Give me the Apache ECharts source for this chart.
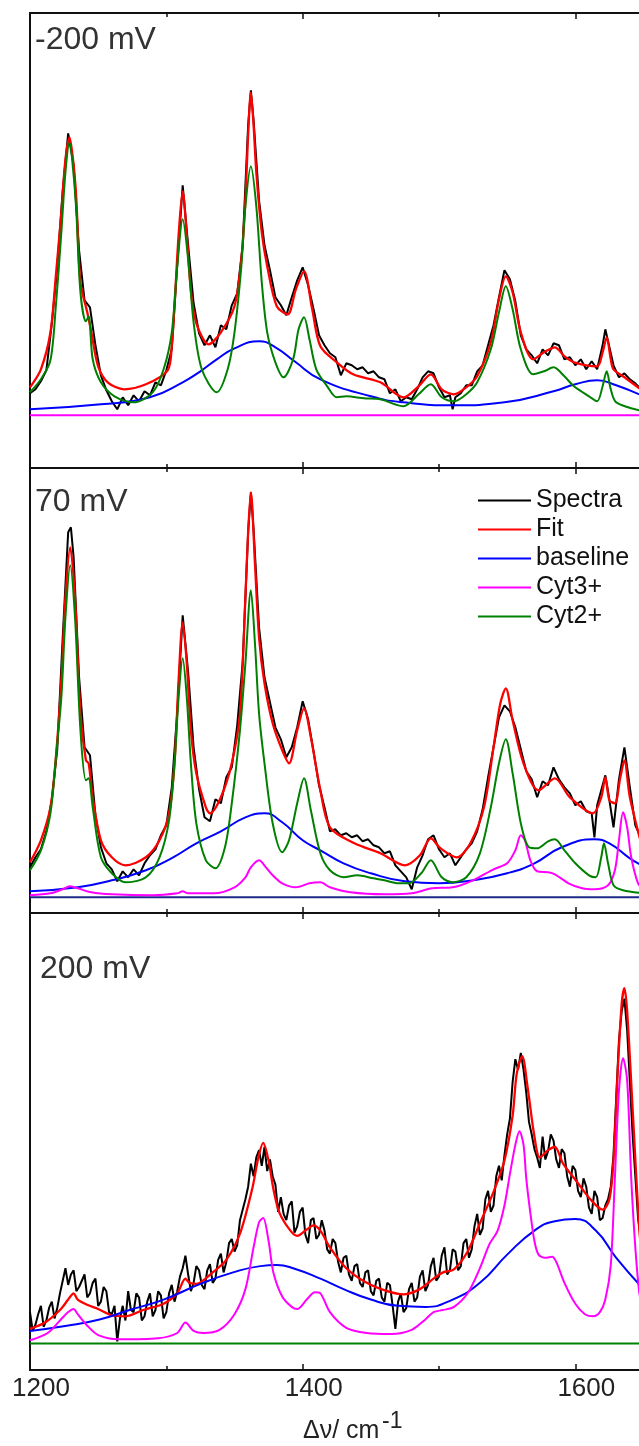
<!DOCTYPE html>
<html>
<head>
<meta charset="utf-8">
<script src="https://cdn.jsdelivr.net/npm/echarts@6/dist/echarts.min.js"></script>
<style>
  html, body { margin: 0; padding: 0; background: #fff; }
  #chart { width: 639px; height: 1446px; }
</style>
</head>
<body>
<div id="chart"></div>
<script>
// wavenumber range, cm-1
var xMin = 1200, xMax = 1800, xStep = 200;
var panelNames = ['-200 mV', '70 mV', '200 mV'];

// ---- -200 mV ----
var specA = [[1200,22],[1204,26],[1208,34],[1212,45],[1216,92],[1220,148],[1224,225],[1228,282],[1232,250],[1236,165],[1240,115],[1244,108],[1248,70],[1252,40],[1256,25],[1260,14],[1264,6],[1268,18],[1272,10],[1276,20],[1280,14],[1284,24],[1288,20],[1292,33],[1296,30],[1300,45],[1304,66],[1308,150],[1312,230],[1316,170],[1320,112],[1324,82],[1328,70],[1332,80],[1336,68],[1340,90],[1344,86],[1348,110],[1352,122],[1356,170],[1360,290],[1362,325],[1364,295],[1368,215],[1372,170],[1376,145],[1380,118],[1384,110],[1388,100],[1392,118],[1396,135],[1400,148],[1404,130],[1408,106],[1412,80],[1416,70],[1420,62],[1424,58],[1428,40],[1432,52],[1436,50],[1440,46],[1444,48],[1448,42],[1452,44],[1456,38],[1460,36],[1464,22],[1468,26],[1472,14],[1476,18],[1480,16],[1484,26],[1488,38],[1492,44],[1496,42],[1500,28],[1504,18],[1508,20],[1510,6],[1512,18],[1516,22],[1520,30],[1524,30],[1528,44],[1532,50],[1536,70],[1540,90],[1544,118],[1548,145],[1552,136],[1556,114],[1560,80],[1564,66],[1568,60],[1572,52],[1576,66],[1580,60],[1584,72],[1588,70],[1592,56],[1596,58],[1600,50],[1604,56],[1608,46],[1612,54],[1616,46],[1620,70],[1622,86],[1624,74],[1628,50],[1632,38],[1636,42],[1640,36],[1644,32],[1648,26]];
var fitA = [[1200,28],[1208,46],[1215,83],[1219,140],[1223,203],[1226,256],[1229,278],[1232,250],[1234,216],[1237,133],[1242,103],[1245,83],[1250,49],[1257,33],[1269,26],[1285,31],[1301,45],[1304,70],[1306,110],[1309,180],[1312,224],[1315,180],[1318,125],[1322,92],[1331,71],[1340,83],[1350,109],[1355,156],[1358,216],[1360,280],[1362,323],[1364,290],[1366,243],[1370,183],[1374,149],[1381,109],[1389,101],[1395,126],[1401,144],[1407,106],[1413,69],[1425,53],[1437,41],[1457,33],[1474,18],[1485,29],[1494,41],[1502,26],[1511,21],[1520,28],[1528,39],[1538,73],[1544,116],[1549,139],[1554,123],[1560,83],[1569,56],[1577,63],[1585,68],[1592,59],[1599,53],[1616,49],[1620,63],[1623,78],[1626,56],[1628,46],[1635,39],[1650,24]];
var baseA = [[1200,6],[1252,11],[1288,18],[1312,33],[1325,44],[1337,56],[1350,67],[1368,74],[1380,68],[1394,54],[1413,36],[1450,19],[1474,13],[1511,10],[1548,13],[1584,24],[1600,31],[1616,35],[1630,30],[1650,19]];
var cyt3A = [[1200,0],[1800,0]];
var cyt2A = [[1200,23],[1208,36],[1215,55],[1219,110],[1223,183],[1226,243],[1229,273],[1232,240],[1234,203],[1237,123],[1241,94],[1243,99],[1246,56],[1252,33],[1262,19],[1276,13],[1290,23],[1298,46],[1304,83],[1308,149],[1312,196],[1316,156],[1320,93],[1326,46],[1337,23],[1345,46],[1350,83],[1355,149],[1358,209],[1362,249],[1366,209],[1370,133],[1374,83],[1380,53],[1386,38],[1393,56],[1397,86],[1401,98],[1405,76],[1410,46],[1418,29],[1425,18],[1432,19],[1445,17],[1457,16],[1474,9],[1485,21],[1494,31],[1502,18],[1511,14],[1520,21],[1528,33],[1538,66],[1544,103],[1549,129],[1554,106],[1560,66],[1569,41],[1577,44],[1584,48],[1592,39],[1599,29],[1610,19],[1616,14],[1620,29],[1623,44],[1626,26],[1630,13],[1650,4]];

// ---- 70 mV ----
var specB = [[1200,30],[1204,40],[1208,48],[1212,66],[1216,98],[1220,148],[1224,260],[1228,365],[1230,370],[1232,340],[1236,220],[1240,150],[1244,142],[1248,82],[1252,50],[1256,34],[1260,28],[1264,16],[1268,26],[1272,20],[1276,28],[1280,22],[1284,34],[1288,42],[1292,48],[1296,62],[1300,72],[1304,110],[1308,185],[1312,282],[1316,225],[1320,150],[1324,108],[1328,80],[1332,76],[1336,98],[1340,94],[1344,120],[1348,130],[1352,172],[1356,235],[1360,365],[1362,405],[1364,368],[1368,270],[1372,220],[1376,195],[1380,170],[1384,158],[1388,140],[1392,150],[1396,170],[1400,196],[1404,178],[1408,146],[1412,112],[1416,90],[1420,66],[1424,68],[1428,62],[1432,64],[1436,60],[1440,62],[1444,56],[1448,58],[1452,52],[1456,50],[1460,44],[1464,46],[1468,32],[1472,26],[1476,20],[1480,8],[1484,30],[1488,42],[1492,58],[1496,62],[1500,48],[1504,40],[1508,44],[1512,32],[1516,40],[1520,48],[1524,54],[1528,66],[1532,88],[1536,120],[1540,150],[1544,180],[1548,192],[1552,186],[1556,170],[1560,148],[1564,126],[1568,118],[1572,100],[1576,116],[1580,112],[1584,130],[1588,118],[1592,110],[1596,104],[1600,92],[1604,96],[1608,86],[1612,84],[1614,60],[1616,92],[1620,112],[1622,122],[1624,106],[1628,70],[1632,118],[1636,150],[1640,110],[1644,72],[1648,60]];
var fitB = [[1200,35],[1208,57],[1215,90],[1219,140],[1223,217],[1226,300],[1229.5,350],[1233,300],[1237,184],[1241,137],[1243,134],[1246,100],[1252,57],[1260,40],[1270,32],[1285,40],[1295,57],[1302,84],[1306,134],[1309,217],[1312,275],[1315,234],[1318,167],[1322,124],[1329,90],[1332,84],[1340,100],[1348,134],[1354,184],[1358,300],[1360,365],[1362,405],[1365,334],[1368,260],[1372,214],[1378,174],[1385,147],[1390,134],[1396,167],[1401,189],[1406,160],[1413,107],[1420,70],[1438,54],[1457,44],[1475,32],[1486,42],[1494,59],[1501,49],[1513,40],[1523,54],[1533,90],[1540,150],[1545,194],[1549,209],[1554,177],[1562,134],[1573,107],[1585,119],[1596,100],[1613,84],[1619,100],[1622,120],[1625,97],[1629,94],[1633,120],[1636,137],[1640,100],[1650,45]];
var baseB = [[1200,6],[1235,10],[1260,17],[1285,27],[1305,40],[1322,54],[1340,66],[1358,80],[1372,84],[1385,75],[1400,57],[1413,47],[1430,34],[1450,24],[1475,16],[1500,14],[1525,17],[1550,24],[1570,34],[1590,50],[1614,58],[1625,54],[1640,39],[1650,31]];
var cyt3B = [[1200,2],[1215,4],[1224,8],[1229,11],[1235,9],[1245,5],[1260,3],[1290,2],[1308,4],[1312,6],[1316,4],[1335,4],[1350,10],[1358,20],[1362,30],[1368,37],[1373,30],[1378,22],[1385,14],[1395,10],[1405,14],[1413,15],[1420,10],[1435,5],[1460,3],[1480,4],[1495,9],[1510,10],[1525,17],[1540,28],[1550,34],[1556,47],[1560,62],[1563,57],[1567,37],[1572,26],[1580,25],[1585,23],[1595,14],[1605,9],[1614,8],[1624,12],[1629,27],[1632,57],[1635,85],[1638,70],[1641,40],[1646,14],[1650,8]];
var cyt2B = [[1200,27],[1208,47],[1215,84],[1219,140],[1223,200],[1226,280],[1229.5,332],[1233,280],[1237,167],[1241,117],[1243,119],[1246,90],[1252,40],[1260,24],[1270,15],[1285,20],[1295,40],[1302,77],[1306,134],[1309,200],[1312,239],[1315,200],[1318,134],[1322,74],[1329,37],[1336,29],[1343,50],[1348,94],[1354,167],[1358,234],[1362,307],[1365,254],[1368,184],[1372,134],[1378,74],[1385,45],[1390,57],[1396,94],[1401,119],[1406,87],[1413,44],[1420,27],[1430,20],[1440,22],[1452,19],[1460,17],[1470,14],[1478,14],[1487,24],[1494,37],[1502,20],[1510,15],[1520,20],[1530,44],[1538,90],[1544,134],[1549,158],[1554,124],[1560,74],[1566,50],[1572,49],[1580,56],[1585,58],[1592,47],[1600,34],[1610,22],[1615,20],[1619,40],[1621,54],[1624,34],[1628,12],[1635,7],[1650,4]];
var zeroB = [[1200,0],[1800,0]];

// ---- 200 mV ----
var specC = [[1200,30],[1202,12],[1204,18],[1206,28],[1208,36],[1210,16],[1212,22],[1214,34],[1216,40],[1218,24],[1220,34],[1222,48],[1224,60],[1226,72],[1228,56],[1230,66],[1232,70],[1234,50],[1236,54],[1238,60],[1240,66],[1242,44],[1244,48],[1246,58],[1248,62],[1250,36],[1252,40],[1254,54],[1256,50],[1258,30],[1260,28],[1262,36],[1264,2],[1266,24],[1268,36],[1270,22],[1272,50],[1274,32],[1276,30],[1278,48],[1280,44],[1282,22],[1284,26],[1286,40],[1288,48],[1290,26],[1292,32],[1294,50],[1296,46],[1298,24],[1300,30],[1302,48],[1304,56],[1306,40],[1308,50],[1310,64],[1312,72],[1314,84],[1316,66],[1318,50],[1320,58],[1322,74],[1324,70],[1326,56],[1328,52],[1330,70],[1332,76],[1334,58],[1336,62],[1338,80],[1340,86],[1342,68],[1344,78],[1346,96],[1348,100],[1350,88],[1352,94],[1354,118],[1356,128],[1358,138],[1360,150],[1362,172],[1364,160],[1366,178],[1368,185],[1370,170],[1372,188],[1374,165],[1376,176],[1378,160],[1380,152],[1382,126],[1384,140],[1386,124],[1388,118],[1390,132],[1392,136],[1394,106],[1396,112],[1398,126],[1400,130],[1402,104],[1404,96],[1406,118],[1408,120],[1410,100],[1412,104],[1414,118],[1416,108],[1418,90],[1420,86],[1422,100],[1424,96],[1426,78],[1428,68],[1430,82],[1432,84],[1434,66],[1436,60],[1438,74],[1440,76],[1442,58],[1444,54],[1446,68],[1448,70],[1450,50],[1452,46],[1454,60],[1456,62],[1458,44],[1460,40],[1462,58],[1464,56],[1466,36],[1468,14],[1470,40],[1472,48],[1474,30],[1476,34],[1478,52],[1480,58],[1482,40],[1484,44],[1486,64],[1488,70],[1490,50],[1492,56],[1494,74],[1496,82],[1498,60],[1500,64],[1502,84],[1504,92],[1506,66],[1508,70],[1510,90],[1512,88],[1514,70],[1516,74],[1518,96],[1520,100],[1522,82],[1524,90],[1526,112],[1528,124],[1530,104],[1532,110],[1534,138],[1536,146],[1538,126],[1540,132],[1542,160],[1544,170],[1546,156],[1548,180],[1550,200],[1552,215],[1554,250],[1556,272],[1558,262],[1560,278],[1562,262],[1564,240],[1566,212],[1568,200],[1570,186],[1572,178],[1574,168],[1576,198],[1578,176],[1580,184],[1582,200],[1584,194],[1586,176],[1588,168],[1590,186],[1592,182],[1594,160],[1596,150],[1598,170],[1600,166],[1602,146],[1604,140],[1606,158],[1608,150],[1610,130],[1612,124],[1614,146],[1616,140],[1618,118],[1620,120],[1622,132],[1624,138],[1626,150],[1628,180],[1630,236],[1632,290],[1634,318],[1636,330],[1638,300],[1640,250],[1642,200],[1644,160],[1646,120],[1648,100]];
var fitC = [[1200,14],[1211,20],[1222,32],[1228,42],[1232,48],[1235,42],[1242,37],[1250,33],[1260,27],[1270,26],[1283,32],[1298,38],[1308,48],[1314,62],[1317,58],[1322,57],[1334,68],[1344,80],[1354,105],[1363,148],[1367.5,178],[1371,192],[1375,175],[1378.5,148],[1383,125],[1391,108],[1396,103],[1402,108],[1408,113],[1413,108],[1420,92],[1432,72],[1447,58],[1462,50],[1474,47],[1486,52],[1496,62],[1503,68],[1511,71],[1521,88],[1530,115],[1540,145],[1548,175],[1554,218],[1557,258],[1561,275],[1565,245],[1570,198],[1574,178],[1580,185],[1585,188],[1591,172],[1601,155],[1611,138],[1620,128],[1625,138],[1628,175],[1631,258],[1634,325],[1636,340],[1638,318],[1642,225],[1647,108],[1650,70]];
var baseC = [[1200,12],[1227,17],[1251,23],[1273,32],[1298,42],[1325,57],[1349,68],[1369,74],[1381,75],[1393,72],[1413,62],[1430,52],[1450,42],[1470,36],[1490,35],[1510,42],[1530,58],[1550,85],[1570,108],[1585,117],[1600,119],[1615,108],[1630,82],[1650,52]];
var cyt3C = [[1200,3],[1213,10],[1222,22],[1228,30],[1232,33],[1235,28],[1242,17],[1250,8],[1265,4],[1294,5],[1308,10],[1314,20],[1320,12],[1327,10],[1339,13],[1350,28],[1358,52],[1364,92],[1368,116],[1371,120],[1375,98],[1378.5,68],[1385,45],[1392,35],[1396,33],[1403,42],[1409,49],[1413,48],[1420,30],[1432,15],[1447,10],[1465,9],[1480,13],[1490,23],[1496,30],[1503,32],[1511,35],[1521,48],[1530,72],[1537,95],[1543,108],[1548,132],[1552,162],[1556,190],[1559,203],[1562,190],[1564,158],[1567,125],[1570,98],[1573,85],[1578,82],[1583,83],[1586,78],[1592,58],[1600,38],[1607,28],[1613,26],[1618,30],[1622,42],[1626,75],[1629,158],[1632,242],[1635,273],[1638,252],[1641,158],[1644,92],[1647,48],[1650,30]];
var cyt2C = [[1200,0],[1800,0]];

var legendNames = ['Spectra', 'Fit', 'baseline', 'Cyt3+', 'Cyt2+'];
var colors = { 'Spectra': '#000000', 'Fit': '#ff0000', 'baseline': '#0000ff', 'Cyt3+': '#ff00ff', 'Cyt2+': '#008000' };

var panels = [
  { top: 13, height: 455, yMin: -52.7, yMax: 402.3, data: [specA, fitA, baseA, cyt3A, cyt2A] },
  { top: 468, height: 445, yMin: -15.7, yMax: 429.3, data: [specB, fitB, baseB, cyt3B, cyt2B] },
  { top: 913, height: 457, yMin: -25.4, yMax: 411.9, data: [specC, fitC, baseC, cyt3C, cyt2C] }
];

var font = 'Liberation Sans, Arial, sans-serif';
var smoothBy = [false, 0.3, 0.5, 0.3, 0.3];
var widthBy = [2, 2.3, 2, 2, 2];
var grids = [], xAxes = [], yAxes = [], series = [];

panels.forEach(function (p, i) {
  // the plot runs on past the right edge of the page
  grids.push({ left: 30, width: 818, top: p.top, height: p.height, outerBoundsMode: 'none', containLabel: false });
  var isLast = i === panels.length - 1;
  ['bottom', 'top'].forEach(function (pos) {
    xAxes.push({
      gridIndex: i, type: 'value', position: pos,
      min: xMin, max: xMax, interval: xStep,
      axisLine: { show: true, onZero: false, lineStyle: { color: '#111', width: 2 } },
      axisTick: { show: true, inside: true, length: 6, lineStyle: { color: '#111', width: 1.5 } },
      minorTick: { show: true, splitNumber: 2, length: 4, lineStyle: { color: '#111', width: 1.5 } },
      axisLabel: {
        show: isLast && pos === 'bottom', fontSize: 26, color: '#222', fontFamily: font,
        margin: 6, padding: [0, 0, 0, 22],
        formatter: function (v) { return String(v); }
      },
      splitLine: { show: false }
    });
  });
  yAxes.push({
    gridIndex: i, type: 'value', min: p.yMin, max: p.yMax,
    axisLine: { show: true, onZero: false, lineStyle: { color: '#111', width: 2 } },
    axisTick: { show: false }, axisLabel: { show: false }, splitLine: { show: false }
  });
  if (i === 1) {
    series.push({
      name: 'zero', type: 'line', xAxisIndex: 2 * i, yAxisIndex: i, data: zeroB,
      showSymbol: false, symbol: 'none', lineStyle: { color: '#1c2a8a', width: 2 }, silent: true
    });
  }
  legendNames.forEach(function (nm, k) {
    series.push({
      name: nm, type: 'line', xAxisIndex: 2 * i, yAxisIndex: i,
      data: p.data[k],
      showSymbol: false, symbol: 'none',
      smooth: smoothBy[k],
      itemStyle: { color: colors[nm] },
      lineStyle: { color: colors[nm], width: widthBy[k] }
    });
  });
});

var chart = echarts.init(document.getElementById('chart'), null, { renderer: 'canvas' });
chart.setOption({
  animation: false,
  backgroundColor: '#fff',
  grid: grids,
  xAxis: xAxes,
  yAxis: yAxes,
  legend: {
    data: legendNames, orient: 'vertical', left: 473, top: 483,
    icon: 'rect', itemWidth: 53, itemHeight: 2, itemGap: 4,
    textStyle: { fontSize: 25, lineHeight: 24, color: '#111', fontFamily: font }
  },
  graphic: [
    { type: 'text', left: 35, top: 24, style: { text: panelNames[0], fontSize: 32, fontFamily: font, fill: '#333' } },
    { type: 'text', left: 35, top: 486, style: { text: panelNames[1], fontSize: 32, fontFamily: font, fill: '#333' } },
    { type: 'text', left: 40, top: 953, style: { text: panelNames[2], fontSize: 32, fontFamily: font, fill: '#333' } },
    { type: 'text', left: 303, top: 1419, style: { text: 'Δν/ cm', fontSize: 25, fontFamily: font, fill: '#222' } },
    { type: 'text', left: 382, top: 1410, style: { text: '-1', fontSize: 23, fontFamily: font, fill: '#222' } }
  ],
  series: series
});
</script>
</body>
</html>
